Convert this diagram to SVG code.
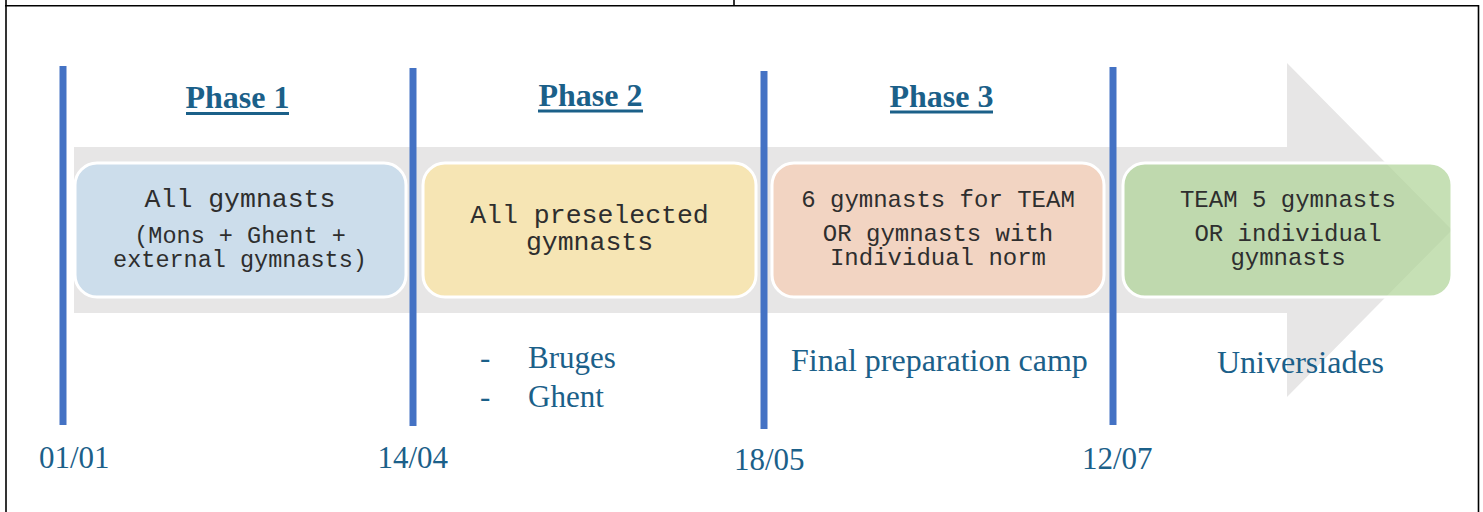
<svg xmlns="http://www.w3.org/2000/svg" width="1483" height="512" viewBox="0 0 1483 512">
<style>
.frame{stroke:#000;stroke-width:1.6;fill:none}
.div{stroke:#4472C4;stroke-width:7;fill:none}
.box{stroke:#fff;stroke-width:3}
.mono{font-family:"Liberation Mono","Courier New",monospace;fill:#2e2e2e;text-anchor:middle}
.phase{font-family:"Liberation Serif","Times New Roman",serif;font-weight:bold;font-size:32px;fill:#1B6089;text-anchor:middle}
.ul{fill:#1B6089}
.serif{font-family:"Liberation Serif","Times New Roman",serif;fill:#1B6089}
</style>
<rect width="1483" height="512" fill="#fff"/>
<g id="frame">
<line class="frame" x1="6" y1="0" x2="6" y2="512"/>
<line class="frame" x1="5" y1="5.8" x2="1479" y2="5.8"/>
<line class="frame" x1="734" y1="0" x2="734" y2="6"/>
<line class="frame" x1="1478.5" y1="5" x2="1478.5" y2="512"/>
</g>
<g id="arrow">
<polygon points="74,147 1287,147 1287,63 1452,230 1287,397 1287,313 74,313" fill="#E7E6E6"/>
</g>
<g id="box1">
<rect class="box" x="75" y="163" width="331" height="134" rx="22" fill="#CCDDEB"/>
<text class="mono" x="240" y="207" font-size="26.5">All gymnasts</text>
<text class="mono" x="240" y="243" font-size="23.5">(Mons + Ghent +</text>
<text class="mono" x="240" y="267" font-size="23.5">external gymnasts)</text>
</g>
<g id="box2">
<rect class="box" x="423" y="163" width="333" height="134" rx="22" fill="#F6E5B4"/>
<text class="mono" x="589.5" y="223" font-size="26.5">All preselected</text>
<text class="mono" x="589.5" y="250" font-size="26.5">gymnasts</text>
</g>
<g id="box3">
<rect class="box" x="772" y="163" width="332" height="134" rx="22" fill="#F2D4C2"/>
<text class="mono" x="938" y="207" font-size="24">6 gymnasts for TEAM</text>
<text class="mono" x="938" y="241" font-size="24">OR gymnasts with</text>
<text class="mono" x="938" y="265" font-size="24">Individual norm</text>
</g>
<g id="box4">
<rect class="box" x="1123" y="163" width="329" height="134" rx="22" fill="#AED395" fill-opacity="0.7"/>
<text class="mono" x="1288" y="207" font-size="24">TEAM 5 gymnasts</text>
<text class="mono" x="1288" y="241" font-size="24">OR individual</text>
<text class="mono" x="1288" y="265" font-size="24">gymnasts</text>
</g>
<g id="connectors">
<line class="div" x1="63" y1="66" x2="63" y2="425"/>
<line class="div" x1="413" y1="68" x2="413" y2="426"/>
<line class="div" x1="764" y1="71" x2="764" y2="429"/>
<line class="div" x1="1113" y1="67" x2="1113" y2="425"/>
</g>
<g id="phase1">
<text class="phase" x="237.5" y="108">Phase 1</text>
<rect class="ul" x="186" y="112" width="103" height="3"/>
</g>
<g id="phase2">
<text class="phase" x="590.5" y="106">Phase 2</text>
<rect class="ul" x="538" y="109.5" width="105" height="3"/>
</g>
<g id="phase3">
<text class="phase" x="941.5" y="107">Phase 3</text>
<rect class="ul" x="890" y="110.5" width="103" height="3"/>
</g>
<g id="locations">
<text class="serif" x="480" y="368" font-size="31">-</text>
<text class="serif" x="528" y="368" font-size="31">Bruges</text>
<text class="serif" x="480" y="407" font-size="31">-</text>
<text class="serif" x="528" y="407" font-size="31">Ghent</text>
<text class="serif" x="791" y="371" font-size="32">Final preparation camp</text>
<text class="serif" x="1217" y="373" font-size="32">Universiades</text>
</g>
<g id="dates">
<text class="serif" x="39" y="468" font-size="31">01/01</text>
<text class="serif" x="377.5" y="468" font-size="31">14/04</text>
<text class="serif" x="734" y="470" font-size="31">18/05</text>
<text class="serif" x="1082" y="469" font-size="31">12/07</text>
</g>
</svg>
